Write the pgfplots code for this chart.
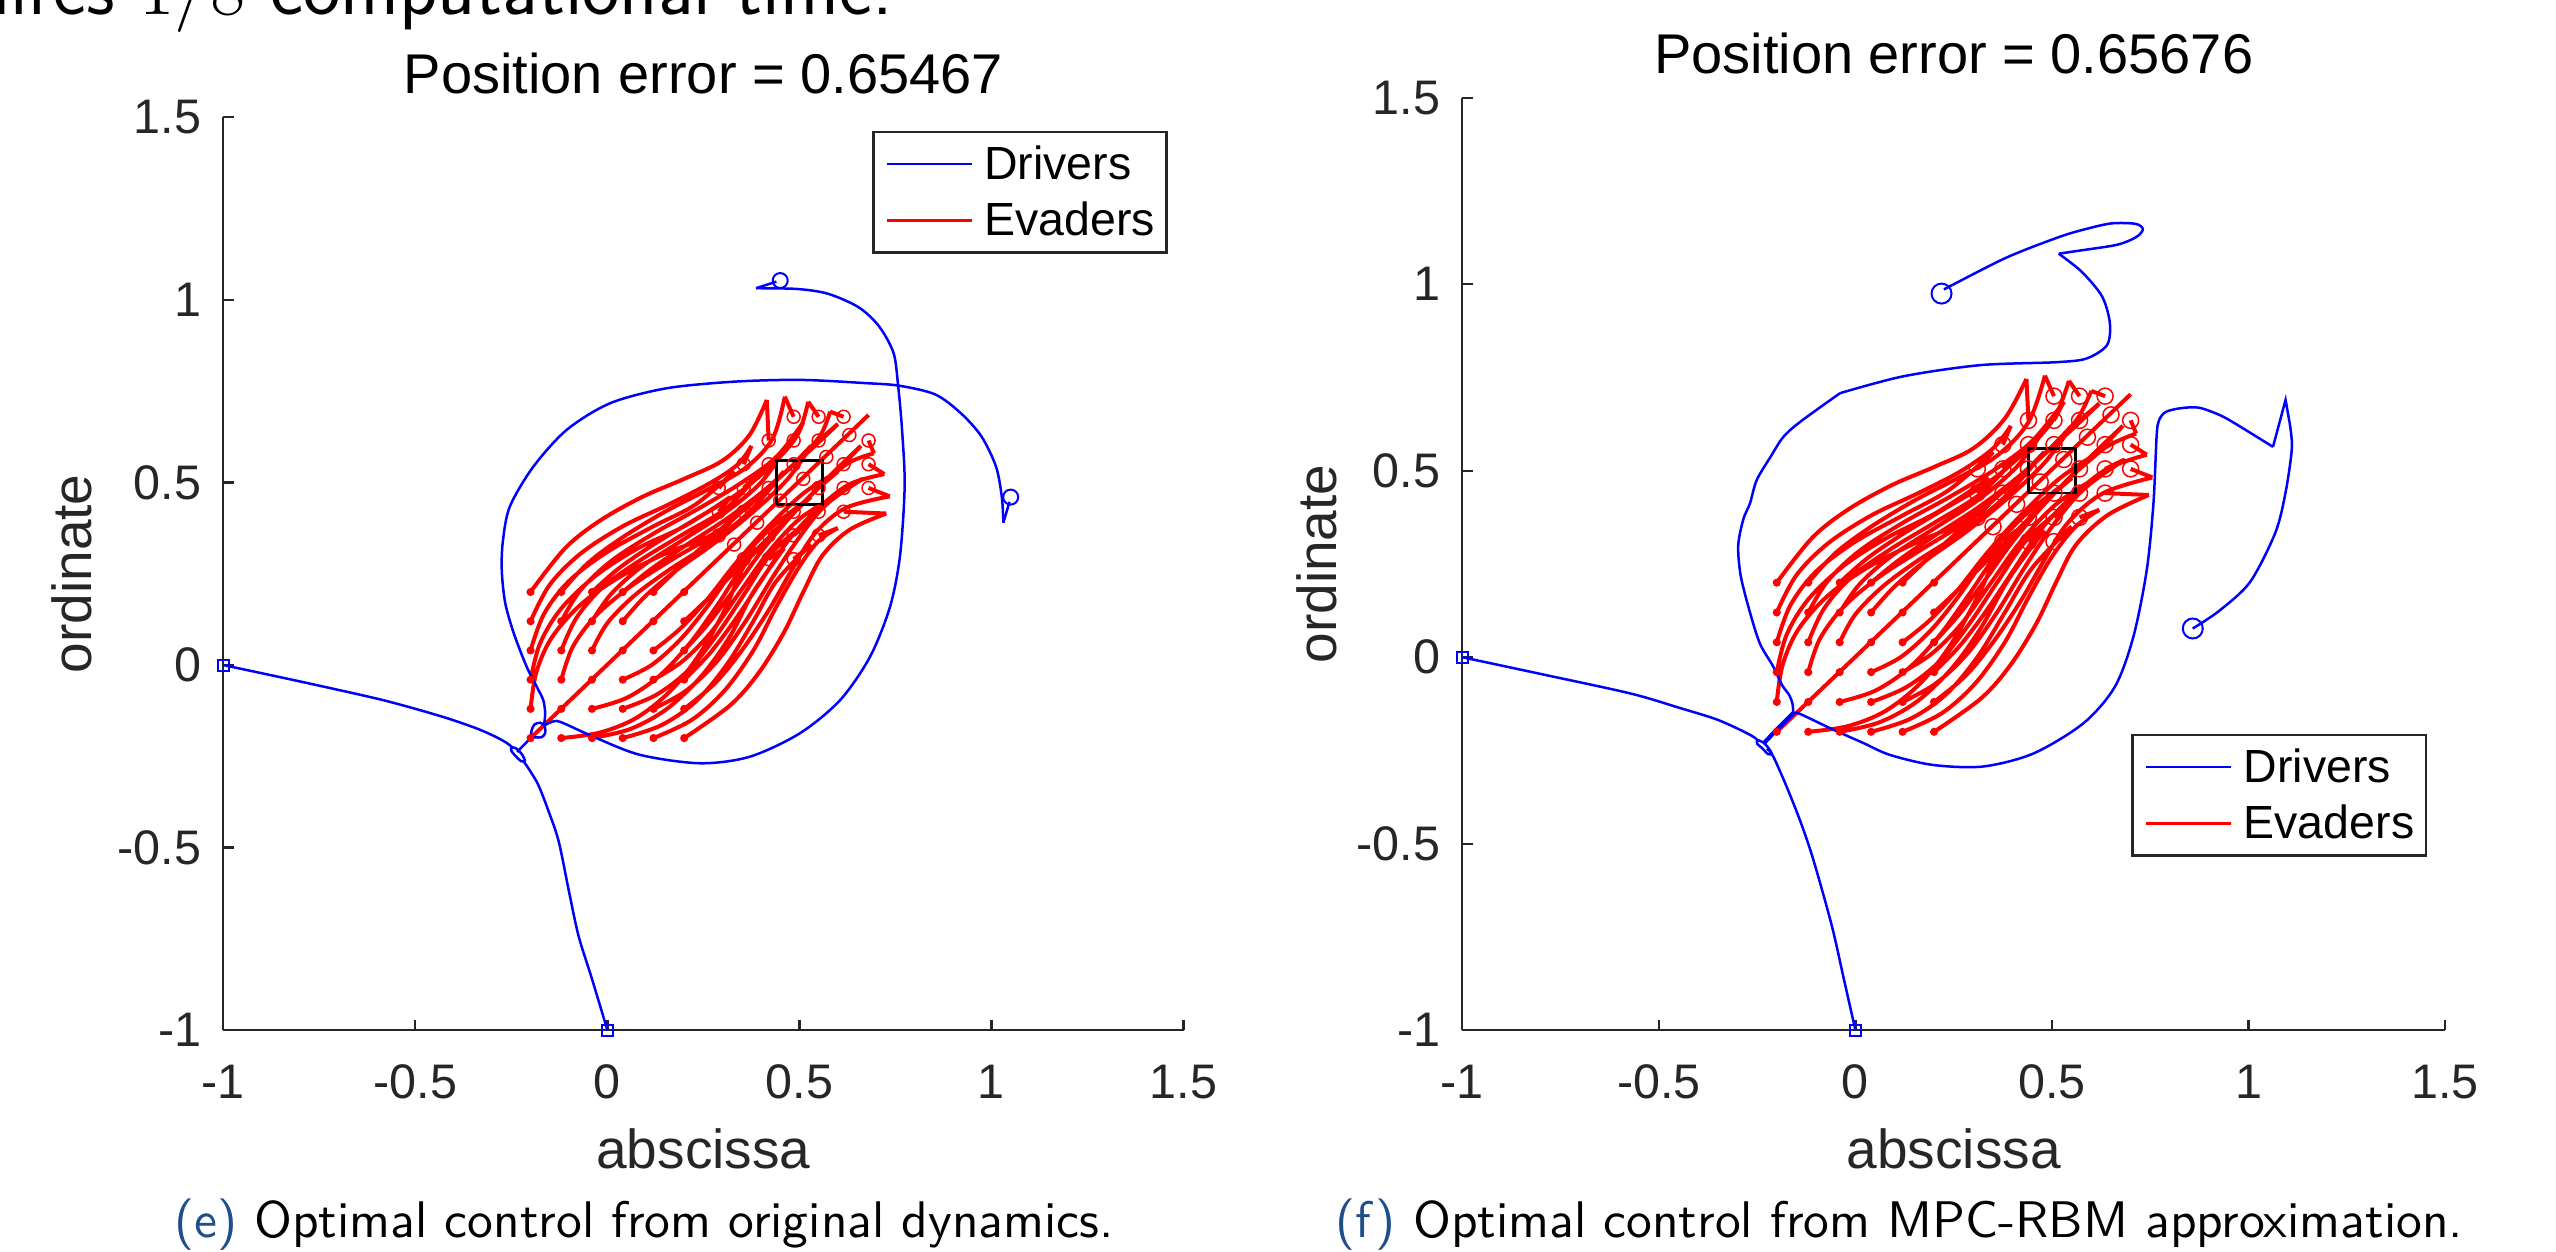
\documentclass[border=0pt]{standalone}
\usepackage{fontspec}
\setmainfont{Liberation Sans}
\usepackage{pgfplots}
\usepackage{pgfplotstable}
\pgfplotsset{compat=1.18}
\definecolor{axgray}{gray}{0.15}
\definecolor{capblue}{RGB}{31,78,140}

% ===== left panel: upper evader strands (start -> tip); lower ones are their mirror =====
\pgfplotstableread{
x y
-0.2 0.2
-0.11 0.32
-0.02 0.395
0.09 0.46
0.2 0.51
0.30 0.56
0.37 0.63
0.415 0.726
nan nan
-0.12 0.2
-0.05 0.28
0.04 0.35
0.15 0.42
0.26 0.48
0.36 0.54
0.43 0.62
0.462 0.735
nan nan
-0.04 0.2
0.03 0.265
0.12 0.33
0.23 0.40
0.34 0.47
0.43 0.55
0.495 0.63
0.523 0.721
nan nan
0.04 0.2
0.11 0.26
0.20 0.325
0.31 0.40
0.41 0.48
0.50 0.565
0.555 0.63
0.58 0.694
nan nan
0.12 0.2
0.19 0.27
0.27 0.345
0.36 0.43
0.45 0.515
0.54 0.60
0.60 0.66
nan nan
-0.2 0.12
-0.15 0.22
-0.07 0.305
0.04 0.38
0.16 0.44
0.27 0.50
0.34 0.55
0.375 0.60
nan nan
-0.12 0.12
-0.07 0.205
0.01 0.285
0.12 0.36
0.24 0.43
0.35 0.50
0.44 0.57
0.51 0.665
nan nan
-0.04 0.12
0.01 0.195
0.09 0.27
0.20 0.345
0.31 0.42
0.40 0.50
0.46 0.59
nan nan
0.04 0.12
0.10 0.19
0.18 0.26
0.28 0.335
0.38 0.42
0.47 0.51
0.53 0.60
nan nan
-0.2 0.04
-0.165 0.14
-0.10 0.23
0.0 0.31
0.12 0.38
0.23 0.44
0.33 0.53
nan nan
-0.12 0.04
-0.08 0.13
-0.01 0.215
0.09 0.29
0.20 0.36
0.31 0.43
0.40 0.53
nan nan
-0.04 0.04
0.0 0.115
0.07 0.19
0.16 0.26
0.27 0.335
0.37 0.42
0.46 0.53
nan nan
-0.2 -0.04
-0.175 0.06
-0.12 0.155
-0.03 0.245
0.08 0.32
0.20 0.38
0.32 0.46
nan nan
-0.12 -0.04
-0.09 0.05
-0.03 0.135
0.06 0.215
0.17 0.29
0.28 0.36
0.39 0.46
nan nan
-0.2 -0.12
-0.185 -0.02
-0.145 0.075
-0.07 0.165
0.03 0.24
0.15 0.305
0.26 0.35
0.32 0.39
}\evMain

\pgfplotstableread{
x y
0.415 0.726
0.42 0.615
nan nan
0.462 0.735
0.485 0.68
nan nan
0.523 0.721
0.55 0.68
nan nan
0.58 0.694
0.615 0.68
nan nan
0.60 0.66
0.55 0.615
nan nan
0.375 0.60
0.355 0.55
nan nan
0.51 0.665
0.485 0.615
nan nan
0.46 0.59
0.42 0.55
nan nan
0.53 0.60
0.485 0.55
nan nan
0.33 0.53
0.29 0.485
nan nan
0.40 0.53
0.355 0.485
nan nan
0.46 0.53
0.42 0.485
nan nan
0.32 0.46
0.29 0.42
nan nan
0.39 0.46
0.355 0.42
nan nan
0.32 0.39
0.29 0.355
}\evRet

\pgfplotstableread{
x y
0.42 0.615
0.485 0.68
0.55 0.68
0.615 0.68
0.55 0.615
0.355 0.55
0.485 0.615
0.42 0.55
0.485 0.55
0.29 0.485
0.355 0.485
0.42 0.485
0.29 0.42
0.355 0.42
0.29 0.355
}\evEnd

% ===== right panel: same start grid, ends slightly further up-right =====
\pgfplotstableread{
x y
-0.2 0.2
-0.11 0.32
-0.02 0.395
0.09 0.46
0.2 0.51
0.30 0.56
0.38 0.64
0.435 0.746
nan nan
-0.12 0.2
-0.05 0.28
0.04 0.35
0.15 0.42
0.26 0.48
0.36 0.54
0.44 0.63
0.482 0.755
nan nan
-0.04 0.2
0.03 0.265
0.12 0.33
0.23 0.40
0.34 0.47
0.43 0.55
0.505 0.64
0.543 0.741
nan nan
0.04 0.2
0.11 0.26
0.20 0.325
0.31 0.40
0.41 0.48
0.50 0.565
0.565 0.64
0.60 0.714
nan nan
0.12 0.2
0.19 0.27
0.27 0.345
0.36 0.43
0.45 0.515
0.55 0.61
0.62 0.68
nan nan
-0.2 0.12
-0.15 0.22
-0.07 0.305
0.04 0.38
0.16 0.44
0.27 0.50
0.35 0.56
0.395 0.62
nan nan
-0.12 0.12
-0.07 0.205
0.01 0.285
0.12 0.36
0.24 0.43
0.35 0.50
0.45 0.58
0.53 0.685
nan nan
-0.04 0.12
0.01 0.195
0.09 0.27
0.20 0.345
0.31 0.42
0.41 0.51
0.48 0.61
nan nan
0.04 0.12
0.10 0.19
0.18 0.26
0.28 0.335
0.38 0.42
0.48 0.52
0.55 0.62
nan nan
-0.2 0.04
-0.165 0.14
-0.10 0.23
0.0 0.31
0.12 0.38
0.24 0.45
0.35 0.55
nan nan
-0.12 0.04
-0.08 0.13
-0.01 0.215
0.09 0.29
0.20 0.36
0.32 0.44
0.42 0.55
nan nan
-0.04 0.04
0.0 0.115
0.07 0.19
0.16 0.26
0.27 0.335
0.38 0.43
0.48 0.55
nan nan
-0.2 -0.04
-0.175 0.06
-0.12 0.155
-0.03 0.245
0.08 0.32
0.21 0.39
0.34 0.48
nan nan
-0.12 -0.04
-0.09 0.05
-0.03 0.135
0.06 0.215
0.17 0.29
0.29 0.37
0.41 0.48
nan nan
-0.2 -0.12
-0.185 -0.02
-0.145 0.075
-0.07 0.165
0.03 0.24
0.15 0.305
0.27 0.36
0.34 0.41
}\evMainR

\pgfplotstableread{
x y
0.435 0.746
0.44 0.635
nan nan
0.482 0.755
0.505 0.70
nan nan
0.543 0.741
0.57 0.70
nan nan
0.60 0.714
0.635 0.70
nan nan
0.62 0.68
0.57 0.635
nan nan
0.395 0.62
0.375 0.57
nan nan
0.53 0.685
0.505 0.635
nan nan
0.48 0.61
0.44 0.57
nan nan
0.55 0.62
0.505 0.57
nan nan
0.35 0.55
0.31 0.505
nan nan
0.42 0.55
0.375 0.505
nan nan
0.48 0.55
0.44 0.505
nan nan
0.34 0.48
0.31 0.44
nan nan
0.41 0.48
0.375 0.44
nan nan
0.34 0.41
0.31 0.375
}\evRetR

\pgfplotstableread{
x y
0.44 0.635
0.505 0.70
0.57 0.70
0.635 0.70
0.57 0.635
0.375 0.57
0.505 0.635
0.44 0.57
0.505 0.57
0.31 0.505
0.375 0.505
0.44 0.505
0.31 0.44
0.375 0.44
0.31 0.375
}\evEndR

\pgfplotsset{
  ev/.style={red, line width=0.8pt, smooth, tension=0.55, forget plot, unbounded coords=jump},
  evr/.style={red, line width=0.8pt, sharp plot, forget plot, unbounded coords=jump},
  evc/.style={only marks, mark=o, red, mark options={line width=0.3pt}, forget plot},
  dr/.style={blue, line width=0.5pt, smooth, tension=0.5, forget plot},
  drs/.style={blue, line width=0.5pt, sharp plot, forget plot},
  panel/.style={
    scale only axis, anchor=south west,
    xmin=-1, xmax=1.5, ymin=-1, ymax=1.5,
    axis x line*=bottom, axis y line*=left,
    axis line style={axgray, line width=0.45pt, -},
    xtick={-1,-0.5,0,0.5,1,1.5}, ytick={-1,-0.5,0,0.5,1,1.5},
    xticklabels={-1,-0.5,0,0.5,1,1.5}, yticklabels={-1,-0.5,0,0.5,1,1.5},
    tick align=inside, major tick length=2.1pt,
    tick style={axgray, line width=0.45pt},
    ticklabel style={font=\fontsize{9.7}{11}\selectfont, text=axgray},
    xticklabel style={anchor=base, yshift=-13.7pt},
    yticklabel style={anchor=east, inner sep=0pt, xshift=-4.2pt},
    xlabel style={anchor=base, font=\fontsize{11}{13}\selectfont, text=axgray},
    ylabel style={anchor=base, font=\fontsize{11}{13}\selectfont, text=axgray},
    every axis title shift=0pt,
    title style={at={(axis description cs:0.5,1)}, anchor=base, yshift=4.8pt, font=\fontsize{11.2}{13}\selectfont},
    legend style={draw=axgray, line width=0.5pt, fill=white,
      font=\fontsize{9.3}{10}\selectfont, inner sep=1.4pt, row sep=1.3pt, column sep=1.3pt,
      nodes={inner sep=0.9pt, text height=7.2pt, text depth=1pt}},
    legend image code/.code={\path (0pt,0pt); \draw[##1] (0.9pt,0pt) -- (17.9pt,0pt);},
    legend cell align=left,
  }
}

% #1 strands, #2 returns, #3 final positions, #4 circle size
\newcommand{\drawevaders}[4]{%
  \addplot[ev] table[x=x,y=y]{#1};
  \addplot[ev] table[x=y,y=x]{#1};
  \addplot[evr] table[x=x,y=y]{#2};
  \addplot[evr] table[x=y,y=x]{#2};
  \addplot[evc, mark size=#4] table[x=x,y=y]{#3};
  \addplot[evc, mark size=#4] table[x=y,y=x]{#3};
  \addplot[only marks, mark=*, red, mark size=0.6pt, forget plot] coordinates {
    (-0.2,0.2) (-0.12,0.2) (-0.04,0.2) (0.04,0.2) (0.12,0.2) (0.2,0.2)
    (-0.2,0.12) (-0.12,0.12) (-0.04,0.12) (0.04,0.12) (0.12,0.12) (0.2,0.12)
    (-0.2,0.04) (-0.12,0.04) (-0.04,0.04) (0.04,0.04) (0.12,0.04) (0.2,0.04)
    (-0.2,-0.04) (-0.12,-0.04) (-0.04,-0.04) (0.04,-0.04) (0.12,-0.04) (0.2,-0.04)
    (-0.2,-0.12) (-0.12,-0.12) (-0.04,-0.12) (0.04,-0.12) (0.12,-0.12) (0.2,-0.12)
    (-0.2,-0.2) (-0.12,-0.2) (-0.04,-0.2) (0.04,-0.2) (0.12,-0.2) (0.2,-0.2)};
}

\begin{document}
\begin{tikzpicture}[x=1pt,y=1pt]
\useasboundingbox (0,0) rectangle (511.2,250.4);

\node[anchor=base east, inner sep=0pt, font=\sffamily\fontsize{15.8}{18}\selectfont] at (178.8,247.4) {requires $1/8$ computational time.};

% ---------------- left panel ----------------
\begin{axis}[panel, at={(44.66pt,44.36pt)}, width=192.04pt, height=182.56pt,
  title={Position error = 0.65467},
  xlabel={abscissa}, ylabel={ordinate},
  xlabel style={at={(axis description cs:0.5,-0.151)}},
  ylabel style={at={(axis description cs:-0.137,0.5)}},
  legend style={at={(rel axis cs:0.9835,0.9854)}, anchor=north east}]
\addlegendimage{blue, line width=0.5pt}
\addlegendentry{Drivers}
\addlegendimage{red, line width=0.7pt}
\addlegendentry{Evaders}

\drawevaders{\evMain}{\evRet}{\evEnd}{1.3pt}
\addplot[evr] coordinates {(-0.2,-0.2) (0.68,0.685)};
\addplot[evc, mark size=1.3pt] coordinates {(0.33,0.33) (0.39,0.39) (0.45,0.45) (0.51,0.51) (0.57,0.57) (0.63,0.63)};

% driver from (-1,0)
\addplot[dr] coordinates {(-1,0) (-0.8,-0.045) (-0.6,-0.092) (-0.493,-0.122) (-0.41,-0.148) (-0.337,-0.175) (-0.29,-0.197) (-0.261,-0.214) (-0.245,-0.228)};
% driver from (0,-1)
\addplot[dr] coordinates {(0,-1) (-0.04,-0.86) (-0.075,-0.742) (-0.1,-0.62) (-0.127,-0.482) (-0.155,-0.395) (-0.18,-0.328) (-0.203,-0.287) (-0.218,-0.264)};
% junction loops
\addplot[dr] coordinates {(-0.25,-0.225) (-0.238,-0.228) (-0.222,-0.245) (-0.215,-0.262) (-0.225,-0.263) (-0.24,-0.248) (-0.25,-0.235) (-0.25,-0.225)};
\addplot[drs] coordinates {(-0.235,-0.238) (-0.2,-0.2)};
\addplot[dr] coordinates {(-0.2,-0.2) (-0.197,-0.178) (-0.19,-0.163) (-0.175,-0.158) (-0.163,-0.168) (-0.162,-0.187) (-0.172,-0.198) (-0.188,-0.198) (-0.2,-0.2)};
% up the left side, across the top, to the right
\addplot[dr] coordinates {(-0.165,-0.165) (-0.162,-0.132) (-0.167,-0.096) (-0.184,-0.059) (-0.21,-0.005) (-0.243,0.085) (-0.266,0.17) (-0.275,0.26) (-0.272,0.34) (-0.254,0.434) (-0.193,0.543) (-0.106,0.644) (0.007,0.717) (0.154,0.758) (0.328,0.776) (0.501,0.781) (0.675,0.772) (0.76,0.765) (0.854,0.741) (0.921,0.689) (0.974,0.626) (1.012,0.543) (1.027,0.46) (1.031,0.39)};
\addplot[drs] coordinates {(1.031,0.39) (1.047,0.447)};
% along the bottom, up the right side, to the top
\addplot[dr] coordinates {(-0.165,-0.165) (-0.15,-0.158) (-0.132,-0.153) (-0.106,-0.163) (-0.037,-0.196) (0.085,-0.246) (0.241,-0.269) (0.371,-0.251) (0.501,-0.187) (0.606,-0.096) (0.684,0.023) (0.736,0.160) (0.762,0.30) (0.774,0.491) (0.767,0.647) (0.757,0.765) (0.745,0.855) (0.707,0.928) (0.654,0.980) (0.574,1.017) (0.494,1.030) (0.387,1.032)};
\addplot[drs] coordinates {(0.387,1.032) (0.44,1.05)};

\addplot[black, line width=0.55pt, forget plot] coordinates {(0.44,0.44) (0.56,0.44) (0.56,0.56) (0.44,0.56) (0.44,0.44)};
\addplot[only marks, mark=square, blue, mark size=1.1pt, mark options={line width=0.4pt}, forget plot] coordinates {(-1,0) (0,-1)};
\addplot[only marks, mark=o, blue, mark size=1.5pt, mark options={line width=0.4pt}, forget plot] coordinates {(0.45,1.053) (1.05,0.46)};
\end{axis}

% ---------------- right panel ----------------
\begin{axis}[panel, at={(292.44pt,44.36pt)}, width=196.6pt, height=186.48pt,
  title={Position error = 0.65676},
  xlabel={abscissa}, ylabel={ordinate},
  xlabel style={at={(axis description cs:0.5,-0.148)}},
  ylabel style={at={(axis description cs:-0.128,0.5)}},
  legend style={at={(rel axis cs:0.9815,0.318)}, anchor=north east}]
\addlegendimage{blue, line width=0.5pt}
\addlegendentry{Drivers}
\addlegendimage{red, line width=0.7pt}
\addlegendentry{Evaders}

\drawevaders{\evMainR}{\evRetR}{\evEndR}{1.6pt}
\addplot[evr] coordinates {(-0.2,-0.2) (0.70,0.705)};
\addplot[evc, mark size=1.6pt] coordinates {(0.35,0.35) (0.41,0.41) (0.47,0.47) (0.53,0.53) (0.59,0.59) (0.65,0.65)};

\addplot[dr] coordinates {(-1,0) (-0.8,-0.045) (-0.573,-0.097) (-0.45,-0.135) (-0.35,-0.168) (-0.268,-0.208) (-0.245,-0.226)};
\addplot[dr] coordinates {(0,-1) (-0.03,-0.86) (-0.06,-0.72) (-0.107,-0.543) (-0.14,-0.44) (-0.175,-0.347) (-0.209,-0.266) (-0.225,-0.245)};
\addplot[dr] coordinates {(-0.25,-0.222) (-0.235,-0.228) (-0.22,-0.245) (-0.213,-0.258) (-0.222,-0.26) (-0.238,-0.243) (-0.25,-0.232) (-0.25,-0.222)};
\addplot[blue, line width=0.85pt, sharp plot, forget plot] coordinates {(-0.234,-0.232) (-0.2,-0.194) (-0.158,-0.15)};
% up the left side
\addplot[dr] coordinates {(-0.158,-0.15) (-0.16,-0.125) (-0.168,-0.102) (-0.187,-0.074) (-0.209,-0.025) (-0.243,0.037) (-0.27,0.127) (-0.292,0.22) (-0.298,0.30) (-0.285,0.37) (-0.268,0.413) (-0.251,0.475) (-0.216,0.537) (-0.183,0.591) (-0.138,0.633) (-0.039,0.708)};
\addplot[dr] coordinates {(-0.039,0.708) (0.121,0.753) (0.316,0.783) (0.511,0.791) (0.588,0.801) (0.64,0.837) (0.647,0.897) (0.627,0.968) (0.575,1.034) (0.517,1.082)};
\addplot[dr] coordinates {(0.517,1.082) (0.575,1.091) (0.666,1.106) (0.715,1.127) (0.731,1.148) (0.712,1.162) (0.65,1.163) (0.575,1.145) (0.511,1.124) (0.381,1.07) (0.225,0.986)};
% along the bottom and up the right side
\addplot[dr] coordinates {(-0.158,-0.15) (-0.141,-0.152) (-0.065,-0.19) (0.02,-0.23) (0.088,-0.262) (0.198,-0.289) (0.325,-0.293) (0.453,-0.258) (0.58,-0.177) (0.66,-0.079) (0.707,0.055) (0.741,0.234) (0.758,0.413) (0.766,0.592) (0.772,0.635) (0.79,0.658) (0.83,0.668) (0.874,0.669) (0.925,0.65) (0.965,0.627) (1.062,0.564)};
\addplot[drs] coordinates {(1.062,0.564) (1.094,0.69) (1.104,0.63)};
\addplot[dr] coordinates {(1.104,0.63) (1.11,0.561) (1.094,0.442) (1.068,0.334) (1.004,0.202) (0.926,0.125) (0.858,0.077)};

\addplot[black, line width=0.55pt, forget plot] coordinates {(0.44,0.44) (0.56,0.44) (0.56,0.56) (0.44,0.56) (0.44,0.44)};
\addplot[only marks, mark=square, blue, mark size=1.1pt, mark options={line width=0.4pt}, forget plot] coordinates {(-1,0) (0,-1)};
\addplot[only marks, mark=o, blue, mark size=2pt, mark options={line width=0.4pt}, forget plot] coordinates {(0.219,0.975) (0.858,0.077)};
\end{axis}

\node[anchor=base, inner sep=0pt, font=\sffamily\fontsize{10.3}{12}\selectfont] at (128.8,2.8) {\textcolor{capblue}{(e)} Optimal control from original dynamics.};
\node[anchor=base, inner sep=0pt, font=\sffamily\fontsize{10.3}{12}\selectfont] at (379.9,2.8) {\textcolor{capblue}{(f)} Optimal control from MPC-RBM approximation.};
\end{tikzpicture}
\end{document}
